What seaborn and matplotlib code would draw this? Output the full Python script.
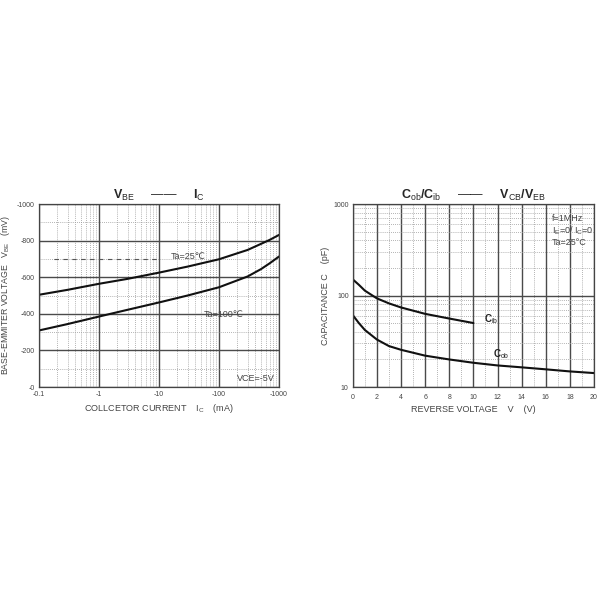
import numpy as np
import pandas as pd
import seaborn as sns
import matplotlib.pyplot as plt

# VBE - IC curves (values read as positive mV, labels shown negative)
ic_ma = [0.1, 0.3, 1, 3, 10, 30, 100, 300, 500, 700, 1000]
vbe_25 = [504, 531, 564, 591, 625, 658, 698, 749, 782, 804, 831]
vbe_100 = [309, 344, 385, 422, 462, 500, 545, 604, 644, 676, 713]

# Cob / Cib vs reverse voltage
v_ib = [0, 0.5, 1, 2, 3, 4, 6, 8, 10]
c_ib = [150, 131, 113, 93, 82, 74, 63, 56, 50]
v_ob = [0, 0.5, 1, 2, 3, 4, 6, 8, 10, 12, 14, 16, 18, 20]
c_ob = [61, 50, 42, 33, 28, 25.5, 22, 20, 18.4, 17.2, 16.4, 15.6, 14.8, 14.2]

x_ticks_left = [0.1, 1, 10, 100, 1000]
x_labels_left = ["-0.1", "-1", "-10", "-100", "-1000"]
y_ticks_left = [0, 200, 400, 600, 800, 1000]
y_labels_left = ["-0", "-200", "-400", "-600", "-800", "-1000"]

sns.set_style("white")
plt.rcParams["font.family"] = ["Liberation Sans", "DejaVu Sans"]
plt.rcParams["mathtext.fontset"] = "custom"
plt.rcParams["mathtext.rm"] = "Liberation Sans"
plt.rcParams["mathtext.bf"] = "Liberation Sans:bold"

txt = "#444444"
major = dict(color="#4a4a4a", lw=1.0, ls="-")
minor = dict(color="#9a9a9a", lw=0.6, ls=(0, (1, 1.5)))

fig = plt.figure(figsize=(6, 6), dpi=100)
ax1 = fig.add_axes([0.065, 0.355, 0.40, 0.305])
ax2 = fig.add_axes([0.588, 0.355, 0.402, 0.305])

# -----------------------------
# Left: VBE - IC
# -----------------------------
df_l = pd.DataFrame({
    "Ic": ic_ma * 2,
    "Vbe": vbe_25 + vbe_100,
    "Ta": ["25"] * len(ic_ma) + ["100"] * len(ic_ma),
})
sns.lineplot(data=df_l, x="Ic", y="Vbe", units="Ta", estimator=None,
             color="#111111", lw=1.5, ax=ax1, legend=False)
ax1.set_xscale("log")
ax1.set_xlim(0.1, 1000)
ax1.set_ylim(0, 1000)
ax1.set_xticks(x_ticks_left)
ax1.set_xticklabels(x_labels_left)
ax1.set_yticks(y_ticks_left)
ax1.set_yticklabels(y_labels_left)
ax1.set_yticks(range(100, 1000, 200), minor=True)
ax1.xaxis.set_minor_locator(plt.matplotlib.ticker.LogLocator(subs=np.arange(2, 10)))
ax1.xaxis.set_minor_formatter(plt.NullFormatter())
ax1.grid(which="major", **major)
ax1.grid(which="minor", **minor)
ax1.plot([0.18, 9.5], [700, 700], color="#555555", lw=0.8, ls=(0, (4, 4)))
ax1.text(16, 712, "Ta=25℃", fontsize=6.5, color=txt, va="center")
ax1.text(55, 395, "Ta=100℃", fontsize=6.5, color=txt, va="center")
ax1.text(850, 45, "VCE=-5V", fontsize=6.5, color=txt, ha="right", va="center")
ax1.set_xlabel(r"COLLCETOR CURRENT    I$_{\mathrm{C}}$    (mA)", fontsize=6.5, color=txt, labelpad=3)
ax1.set_ylabel(r"BASE-EMMITER VOLTAGE   V$_{\mathrm{BE}}$   (mV)", fontsize=6.3, color=txt)
ax1.yaxis.set_label_coords(-0.112, 0.5)
ax1.set_title(r"$\mathbf{V}_{\mathrm{BE}}$     ——     $\mathbf{I}_{\mathrm{C}}$", fontsize=9, pad=4)

# -----------------------------
# Right: Cob/Cib - VCB/VEB
# -----------------------------
df_r = pd.DataFrame({
    "V": v_ib + v_ob,
    "C": c_ib + c_ob,
    "kind": ["ib"] * len(v_ib) + ["ob"] * len(v_ob),
})
sns.lineplot(data=df_r, x="V", y="C", units="kind", estimator=None,
             color="#111111", lw=1.5, ax=ax2, legend=False)
ax2.set_yscale("log")
ax2.set_xlim(0, 20)
ax2.set_ylim(10, 1000)
ax2.set_xticks(range(0, 21, 2))
ax2.set_xticks(range(1, 20, 2), minor=True)
ax2.set_yticks([10, 100, 1000])
ax2.set_yticklabels(["10", "100", "1000"])
ax2.yaxis.set_minor_locator(plt.matplotlib.ticker.LogLocator(subs=np.arange(2, 10)))
ax2.yaxis.set_minor_formatter(plt.NullFormatter())
ax2.grid(which="major", **major)
ax2.grid(which="minor", **minor)
ax2.text(10.9, 55, r"$\mathbf{C}_{\mathrm{ib}}$", fontsize=7, color="#222222", va="center")
ax2.text(11.6, 23, r"$\mathbf{C}_{\mathrm{ob}}$", fontsize=7, color="#222222", va="center")
ax2.text(16.5, 690, "f=1MHz", fontsize=6.5, color=txt, va="center")
ax2.text(16.5, 505, r"I$_{\mathrm{E}}$=0/ I$_{\mathrm{C}}$=0", fontsize=6.5, color=txt, va="center")
ax2.text(16.5, 380, "Ta=25°C", fontsize=6.5, color=txt, va="center")
ax2.set_xlabel("REVERSE VOLTAGE    V    (V)", fontsize=6.5, color=txt, labelpad=3)
ax2.set_ylabel("CAPACITANCE C    (pF)", fontsize=6.5, color=txt)
ax2.yaxis.set_label_coords(-0.095, 0.5)
ax2.set_title(r"$\mathbf{C}_{\mathrm{ob}}\mathbf{/C}_{\mathrm{ib}}$     ——     "
              r"$\mathbf{V}_{\mathrm{CB}}\mathbf{/V}_{\mathrm{EB}}$", fontsize=9, pad=4)

for ax in (ax1, ax2):
    ax.tick_params(which="both", labelsize=5, colors=txt, length=0, pad=3)
    for s in ax.spines.values():
        s.set_color("#444444")
        s.set_linewidth(0.9)
ax2.tick_params(axis="x", which="both", length=2, color="#444444")

fig.savefig("out.png", dpi=100)
